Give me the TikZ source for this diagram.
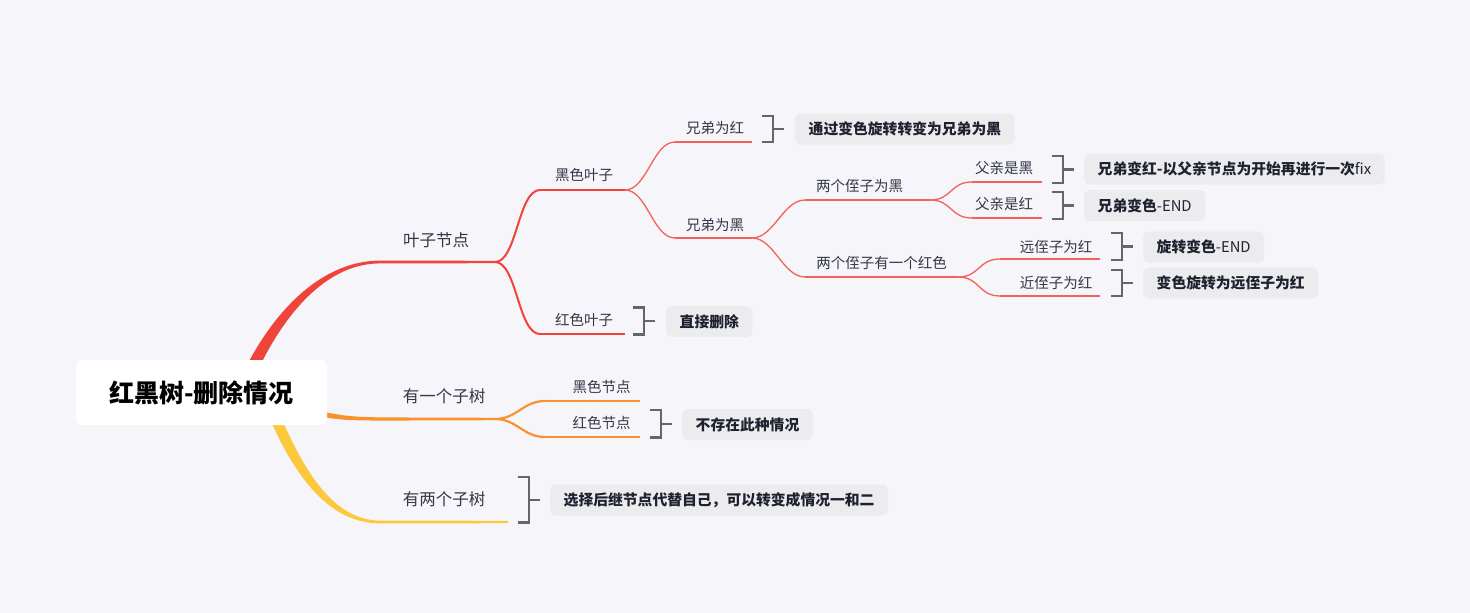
\documentclass[tikz,border=0pt]{standalone}
\usepackage{fontspec}
\setmainfont{Noto Sans CJK SC}
\definecolor{bg}{HTML}{F5F5FA}
\definecolor{cred}{HTML}{F0443A}
\definecolor{credl}{HTML}{F2615A}
\definecolor{corange}{HTML}{F7922E}
\definecolor{cyellow}{HTML}{FCC83C}
\definecolor{brk}{HTML}{666666}
\definecolor{boxc}{HTML}{ECECEE}
\definecolor{labelc}{HTML}{343846}
\definecolor{boxtext}{HTML}{1E2230}
\newcommand\mybranch[3]{\draw[#1] (#2) .. controls +(22,0) and +(-22,0) .. (#3);}
\newcommand\mybrk[4]{%
  \coordinate (#4t) at (#1,#2);
  \coordinate (#4b) at (#1,#3);
  \draw[brkline] (#4t) -- ++(11,0) |- (#4b);
  \draw[brkline] ($(#4t)!0.5!(#4b)+(11,0)$) -- ++(11,0);}
\usetikzlibrary{calc}
\begin{document}
\begin{tikzpicture}[x=1pt,y=-1pt,
  lbl/.style={font=\fontsize{14.5}{16}\selectfont, text=labelc, inner sep=0pt},
  lblone/.style={font=\fontsize{16.5}{18}\selectfont, text=labelc, inner sep=0pt},
  note/.style={fill=boxc, rounded corners=6pt, font=\bfseries\fontsize{14.8}{16}\selectfont,
    text=boxtext, anchor=west, inner xsep=13.5pt, inner ysep=0pt, minimum height=31pt},
  brkline/.style={draw=brk, line width=2.4pt},
  lvtwo/.style={draw=cred, line width=2pt},
  lvthree/.style={draw=credl, line width=1.3pt},
  lvor/.style={draw=corange, line width=2.2pt}]
\useasboundingbox[fill=bg] (0,0) rectangle (1470,613);

% ---- main branches (tapered) ----
\fill[cred] (234,393) .. controls (265,318) and (318,260.6) .. (380,260.6)
  -- (495,260.8) -- (495,263.2) -- (380,263.4)
  .. controls (322,263.4) and (276,322) .. (246,397) -- cycle;
\fill[corange] (300,407) .. controls (345,416.4) .. (380,417.4)
  -- (495,417.8) -- (495,420.2) -- (380,420.6)
  .. controls (340,420.2) .. (300,413) -- cycle;
\fill[cyellow] (270,390) .. controls (300,468) and (332,520.6) .. (380,520.6)
  -- (508,520.8) -- (508,523.2) -- (380,523.4)
  .. controls (327,523.4) and (289,472) .. (260,394) -- cycle;

% ---- coordinates ----
\coordinate (rend) at (495,262);
\coordinate (oend) at (495,419);
\coordinate (bl1) at (540,190); \coordinate (bl2) at (625,190);
\coordinate (rl1) at (540,334); \coordinate (rl2) at (625,334);
\coordinate (bn1) at (545,401); \coordinate (bn2) at (640,401);
\coordinate (rn1) at (545,437); \coordinate (rn2) at (640,437);
\coordinate (xr1) at (675,142); \coordinate (xr2) at (752,142);
\coordinate (xb1) at (675,238); \coordinate (xb2) at (752,238);
\coordinate (lh1) at (805,200); \coordinate (lh2) at (930,200);
\coordinate (lr1) at (805,277); \coordinate (lr2) at (958,277);
\coordinate (fh1) at (972,182); \coordinate (fh2) at (1042,182);
\coordinate (fr1) at (972,218); \coordinate (fr2) at (1042,218);
\coordinate (yr1) at (1000,259); \coordinate (yr2) at (1100,259);
\coordinate (jr1) at (1000,296); \coordinate (jr2) at (1100,296);

% ---- level 2 ----
\mybranch{lvtwo}{rend}{bl1}
\mybranch{lvtwo}{rend}{rl1}
\draw[lvtwo] (bl1) -- (bl2);
\draw[lvtwo] (rl1) -- (rl2);
\mybranch{lvor}{oend}{bn1}
\mybranch{lvor}{oend}{rn1}
\draw[lvor] (bn1) -- (bn2);
\draw[lvor] (rn1) -- (rn2);

% ---- level 3+ ----
\mybranch{lvthree}{bl2}{xr1}
\mybranch{lvthree}{bl2}{xb1}
\draw[lvthree] (xr1) -- (xr2);
\draw[lvthree] (xb1) -- (xb2);
\mybranch{lvthree}{xb2}{lh1}
\mybranch{lvthree}{xb2}{lr1}
\draw[lvthree] (lh1) -- (lh2);
\draw[lvthree] (lr1) -- (lr2);
\mybranch{lvthree}{lh2}{fh1}
\mybranch{lvthree}{lh2}{fr1}
\draw[lvthree] (fh1) -- (fh2);
\draw[lvthree] (fr1) -- (fr2);
\mybranch{lvthree}{lr2}{yr1}
\mybranch{lvthree}{lr2}{jr1}
\draw[lvthree] (yr1) -- (yr2);
\draw[lvthree] (jr1) -- (jr2);

% ---- root ----
\node[fill=white, rounded corners=6pt, minimum width=251pt, minimum height=65pt,
  font=\bfseries\fontsize{25}{27}\selectfont, text=black] (root) at (201.5,392.5) {红黑树-删除情况};

% ---- labels ----
\node[lblone] (leaf) at (436,240) {叶子节点};
\node[lblone] (one) at (444,396) {有一个子树};
\node[lblone] (two) at (444,499) {有两个子树};
\node[lbl] (blackleaf) at (584,175) {黑色叶子};
\node[lbl] (redleaf) at (584,320) {红色叶子};
\node[lbl] (sibred) at (715,128) {兄弟为红};
\node[lbl] (sibblack) at (715,225) {兄弟为黑};
\node[lbl] (nephbb) at (859.5,186) {两个侄子为黑};
\node[lbl] (nephr) at (881.5,263) {两个侄子有一个红色};
\node[lbl] (fb) at (1004,168) {父亲是黑};
\node[lbl] (fr) at (1004,204.5) {父亲是红};
\node[lbl] (farr) at (1056,246.5) {远侄子为红};
\node[lbl] (nearr) at (1056,282.5) {近侄子为红};
\node[lbl] (bnode) at (601.5,386.5) {黑色节点};
\node[lbl] (rnode) at (601.5,423) {红色节点};

% ---- brackets and notes ----
\mybrk{762}{116}{142}{b1}
\node[note] (n1) at (795,129) {通过变色旋转转变为兄弟为黑};
\mybrk{633}{307.5}{334.5}{b2}
\node[note] (n2) at (666,321.5) {直接删除};
\mybrk{1052}{156}{183}{b3}
\node[note] (n3) at (1084,169) {兄弟变红-以父亲节点为开始再进行一次{\mdseries fix}};
\mybrk{1052}{192}{219}{b4}
\node[note] (n4) at (1084,205.5) {兄弟变色{\mdseries -END}};
\mybrk{1111}{233}{260}{b5}
\node[note] (n5) at (1143,247) {旋转变色{\mdseries -END}};
\mybrk{1111}{270}{296}{b6}
\node[note] (n6) at (1143,283) {变色旋转为远侄子为红};
\mybrk{650}{410}{437.5}{b7}
\node[note] (n7) at (682,424.5) {不存在此种情况};
\mybrk{518}{477}{522.5}{b8}
\node[note] (n8) at (550,500) {选择后继节点代替自己，可以转变成情况一和二};
\end{tikzpicture}
\end{document}
